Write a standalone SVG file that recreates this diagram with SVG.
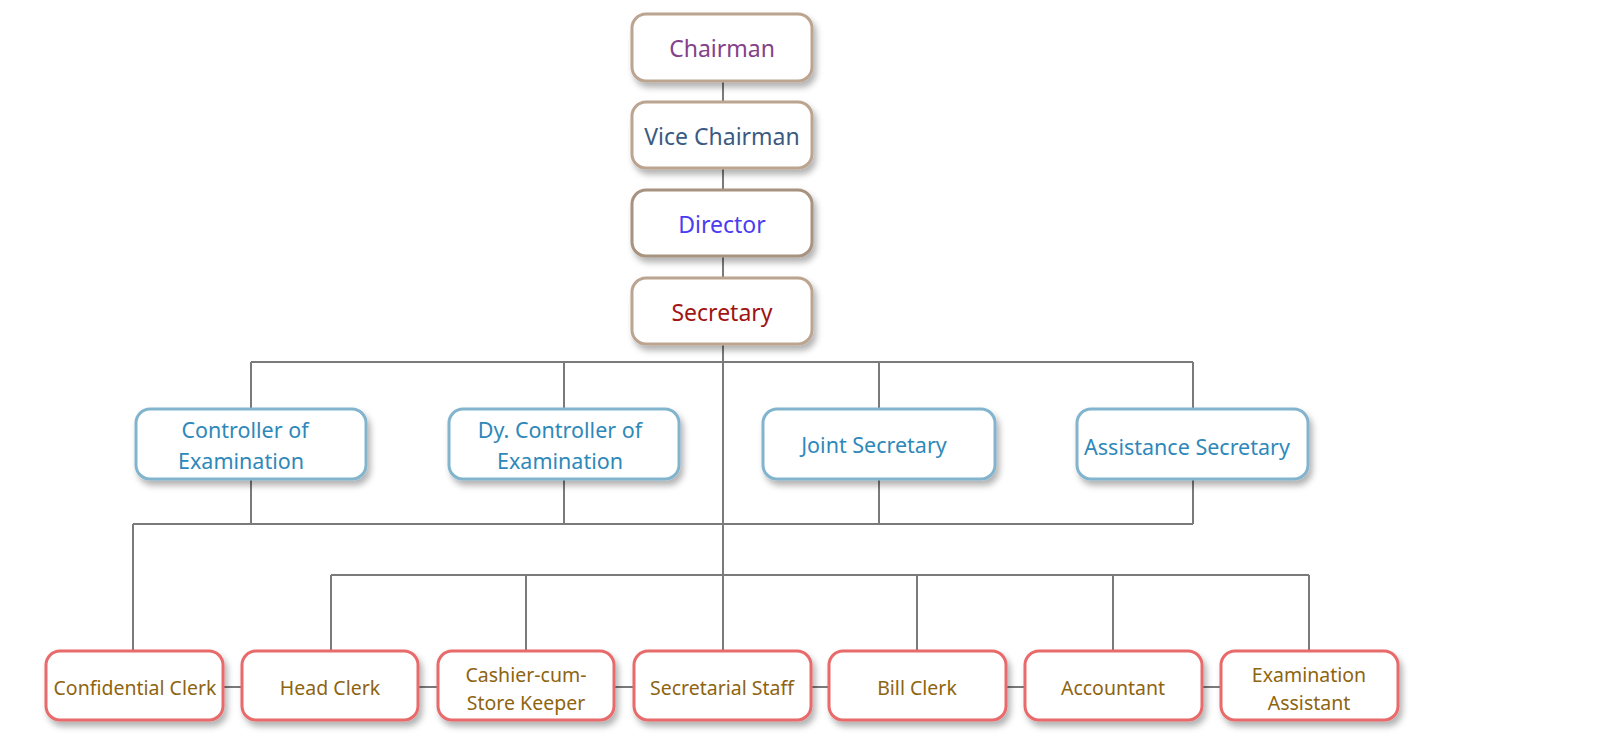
<svg xmlns="http://www.w3.org/2000/svg" width="1600" height="744" viewBox="0 0 1600 744">
<defs>
<filter id="sh" x="-20%" y="-20%" width="150%" height="160%">
<feDropShadow dx="3" dy="5" stdDeviation="3" flood-color="#000" flood-opacity="0.3"/>
</filter>
<style>
.top{fill:#fff;stroke:#BBA590;stroke-width:3;filter:url(#sh)}
.mid{fill:#fff;stroke:#82B4CD;stroke-width:3;filter:url(#sh)}
.bot{fill:#fff;stroke:#E86B6B;stroke-width:3;filter:url(#sh)}
.c{fill:none;stroke:#7a7a7a;stroke-width:2}
text{font-family:"Noto Sans","Open Sans",sans-serif;text-anchor:middle;dominant-baseline:central}
.tt{font-size:23px}
.mt{font-size:21.5px;fill:#2E88BA}
.bt{font-size:19.5px;fill:#8E6410}
</style>
</defs>
<rect width="1600" height="744" fill="#fff"/>
<g id="connectors">
<path class="c" d="M723 81V102M723 168V190M723 256V278M723 344V651"/>
<path class="c" d="M251 362H1193M251 362V409M564 362V409M879 362V409M1193 362V409"/>
<path class="c" d="M251 479V524M564 479V524M879 479V524M1193 479V524M133 524H1193M133 524V651"/>
<path class="c" d="M331 575H1309M331 575V651M526 575V651M917 575V651M1113 575V651M1309 575V651"/>
<path class="c" d="M134 687H1309"/>
</g>
<g id="chairman"><rect class="top" x="632" y="14" width="180" height="67" rx="14"/><text class="tt" x="722" y="48" fill="#83418A">Chairman</text></g>
<g id="vice-chairman"><rect class="top" x="632" y="102" width="180" height="66" rx="14"/><text class="tt" x="722" y="136" fill="#3B5A82">Vice Chairman</text></g>
<g id="director"><rect class="top" x="632" y="190" width="180" height="66" rx="14" style="stroke:#A89280"/><text class="tt" x="722" y="224" fill="#4A3CF0">Director</text></g>
<g id="secretary"><rect class="top" x="632" y="278" width="180" height="66" rx="14"/><text class="tt" x="722" y="312" fill="#A01414">Secretary</text></g>
<g id="controller"><rect class="mid" x="136" y="409" width="230" height="70" rx="14"/><text class="mt" x="245" y="429">Controller of</text><text class="mt" x="241" y="460">Examination</text></g>
<g id="dy-controller"><rect class="mid" x="449" y="409" width="230" height="70" rx="14"/><text class="mt" x="560" y="429">Dy. Controller of</text><text class="mt" x="560" y="460">Examination</text></g>
<g id="joint-secretary"><rect class="mid" x="763" y="409" width="232" height="70" rx="14"/><text class="mt" x="874" y="444">Joint Secretary</text></g>
<g id="assistance-secretary"><rect class="mid" x="1077" y="409" width="231" height="70" rx="14"/><text class="mt" x="1187" y="446">Assistance Secretary</text></g>
<g id="confidential-clerk"><rect class="bot" x="46" y="651" width="177" height="69" rx="14"/><text class="bt" x="135" y="687">Confidential Clerk</text></g>
<g id="head-clerk"><rect class="bot" x="242" y="651" width="176" height="69" rx="14"/><text class="bt" x="330" y="687">Head Clerk</text></g>
<g id="cashier"><rect class="bot" x="438" y="651" width="176" height="69" rx="14"/><text class="bt" x="526" y="674">Cashier-cum-</text><text class="bt" x="526" y="702">Store Keeper</text></g>
<g id="secretarial-staff"><rect class="bot" x="634" y="651" width="177" height="69" rx="14"/><text class="bt" x="722" y="687">Secretarial Staff</text></g>
<g id="bill-clerk"><rect class="bot" x="829" y="651" width="177" height="69" rx="14"/><text class="bt" x="917" y="687">Bill Clerk</text></g>
<g id="accountant"><rect class="bot" x="1025" y="651" width="177" height="69" rx="14"/><text class="bt" x="1113" y="687">Accountant</text></g>
<g id="examination-assistant"><rect class="bot" x="1221" y="651" width="177" height="69" rx="14"/><text class="bt" x="1309" y="674">Examination</text><text class="bt" x="1309" y="702">Assistant</text></g>
</svg>
